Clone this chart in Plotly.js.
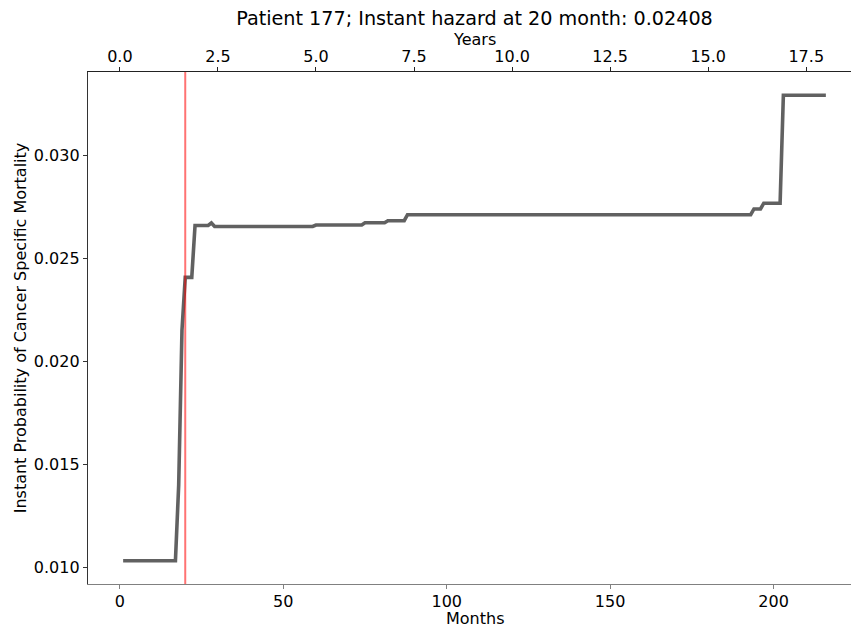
<!DOCTYPE html>
<html>
<head>
<meta charset="utf-8">
<script src="https://cdn.plot.ly/plotly-3.0.1.min.js"></script>
<style>
html,body{margin:0;padding:0;overflow:hidden;background:#fff;}
#chart{width:870px;height:627px;}
</style>
</head>
<body>
<div id="chart"></div>
<script>
// Breakpoints of the monthly instant-hazard curve (month, probability)
const months = [1, 17, 18, 19, 20, 22, 23, 27, 28, 29, 59, 60, 74, 75, 81, 82, 87, 88, 193, 194, 196, 197, 202, 203, 216];
const hazard = [0.01032, 0.01032, 0.0140, 0.0215, 0.02408, 0.02408, 0.02660, 0.02660, 0.02672, 0.02655, 0.02655, 0.02662, 0.02662, 0.02673, 0.02673, 0.02683, 0.02683, 0.02712, 0.02712, 0.02740, 0.02740, 0.02768, 0.02768, 0.03292, 0.03292];
const hazardMonth = 20;
const hazardValue = 0.02408;
const patientId = 177;
const monthTicks = [0, 50, 100, 150, 200];
const yearTicks = [0, 2.5, 5, 7.5, 10, 12.5, 15, 17.5];
const yTicks = [0.010, 0.015, 0.020, 0.025, 0.030];

const years = months.map(m => m / 12);
const font = {family: 'DejaVu Sans, sans-serif', size: 16, color: '#000'};

const traces = [
  {x: months, y: hazard, xaxis: 'x', yaxis: 'y', mode: 'lines',
   line: {color: 'rgba(0,0,0,0.62)', width: 3.6}, hoverinfo: 'skip', showlegend: false},
  {x: years, y: hazard, xaxis: 'x2', yaxis: 'y', mode: 'lines',
   line: {color: 'rgba(0,0,0,0)', width: 0}, opacity: 0, hoverinfo: 'skip', showlegend: false}
];

// plot area: top 72px, height 512px
const plotTop = 72, plotH = 512;
const layout = {
  width: 870, height: 627,
  margin: {l: 88, r: 9, t: plotTop, b: 627 - plotTop - plotH, pad: 0},
  paper_bgcolor: '#fff', plot_bgcolor: '#fff',
  font: font,
  showlegend: false,
  title: {text: 'Patient ' + patientId + '; Instant hazard at ' + hazardMonth + ' month: ' + hazardValue.toFixed(5),
          font: {family: 'DejaVu Sans, sans-serif', size: 19.2, color: '#000'},
          x: 0.5, xanchor: 'center', xref: 'paper', y: 1 - 18 / 627, yanchor: 'middle', yref: 'container'},
  xaxis: {
    range: [-9.75, 226.75], tickvals: monthTicks, ticktext: monthTicks.map(String),
    showline: true, linecolor: '#808080', linewidth: 1.2, mirror: false,
    ticks: 'outside', ticklen: 4, tickwidth: 1, tickcolor: '#808080',
    showgrid: false, zeroline: false, tickfont: font, ticklabelstandoff: -1
  },
  xaxis2: {
    overlaying: 'x', side: 'top', anchor: 'y',
    range: [-0.8125, 18.8958], tickvals: yearTicks, ticktext: yearTicks.map(v => v.toFixed(1)),
    showline: true, linecolor: '#222', linewidth: 1.2,
    ticks: 'outside', ticklen: 4, tickwidth: 1, tickcolor: '#222',
    showgrid: false, zeroline: false, tickfont: font, ticklabelstandoff: -2
  },
  yaxis: {
    range: [0.00919, 0.03405], tickvals: yTicks, ticktext: yTicks.map(v => v.toFixed(3)),
    showline: true, linecolor: '#333', linewidth: 1.2,
    ticks: 'outside', ticklen: 4, tickwidth: 1, tickcolor: '#333',
    showgrid: false, zeroline: false, tickfont: font,
    title: {text: 'Instant Probability of Cancer Specific Mortality', font: font, standoff: 3}
  },
  annotations: [
    {text: 'Years', xref: 'paper', yref: 'paper', x: 0.5, y: 1 + (plotTop - 39) / plotH,
     xanchor: 'center', yanchor: 'middle', showarrow: false, font: font},
    {text: 'Months', xref: 'paper', yref: 'paper', x: 0.5, y: -(618 - plotTop - plotH) / plotH,
     xanchor: 'center', yanchor: 'middle', showarrow: false, font: font}
  ],
  shapes: [{
    type: 'line', xref: 'x', yref: 'paper', x0: hazardMonth, x1: hazardMonth, y0: 0, y1: 1,
    line: {color: 'rgba(255,0,0,0.55)', width: 2}, layer: 'above'
  }]
};

Plotly.newPlot('chart', traces, layout, {staticPlot: true, displayModeBar: false});
</script>
</body>
</html>
